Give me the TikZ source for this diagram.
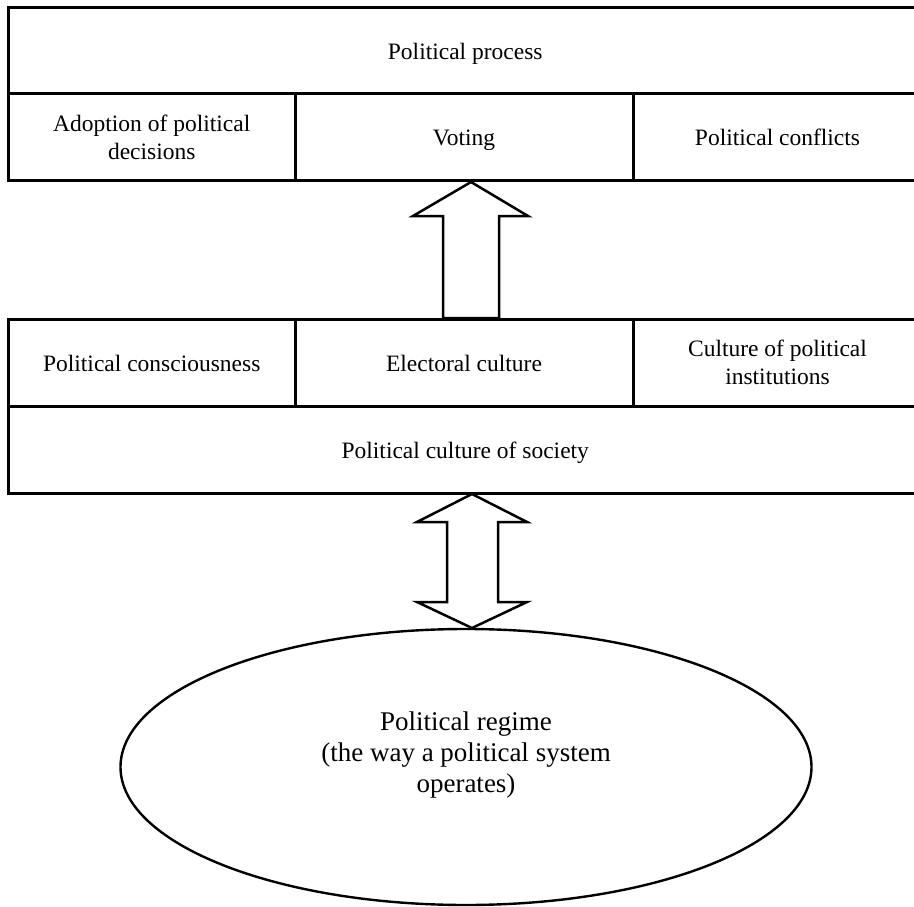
\documentclass[tikz,border=0pt]{standalone}
\usepackage{fontspec}
\setmainfont{Liberation Serif}
\usetikzlibrary{shapes.geometric}
\begin{document}
\begin{tikzpicture}[x=1pt,y=-1pt,
  cell/.style={draw, line width=3pt, rectangle, inner sep=0pt, outer sep=0pt, align=center,
    font=\fontsize{23.5}{28}\selectfont},
  oneline/.style={cell, text height=17.5pt, text depth=0pt},
  blockarrow/.style={draw, line width=2.5pt, fill=white, line join=miter},
  regimestyle/.style={draw, ellipse, line width=2.4pt, inner sep=0pt, outer sep=0pt}]
\clip (0,0) rectangle (914,907);
% top block
\node[oneline, minimum width=913.5pt, minimum height=86pt] (pp) at (465.25,51) {Political process};
\node[cell, minimum width=286.5pt, minimum height=86pt] (adopt) at (151.75,137) {Adoption of political\\decisions};
\node[oneline, minimum width=338pt, minimum height=86pt] (voting) at (464,137) {Voting};
\node[oneline, minimum width=289pt, minimum height=86pt] (conf) at (777.5,137) {Political conflicts};
% middle block
\node[oneline, minimum width=286.5pt, minimum height=87pt] (consc) at (151.75,362.5) {Political consciousness};
\node[oneline, minimum width=338pt, minimum height=87pt] (elect) at (464,362.5) {Electoral culture};
\node[cell, minimum width=289pt, minimum height=87pt] (cinst) at (777.5,362.5) {Culture of political\\institutions};
\node[oneline, minimum width=913.5pt, minimum height=87pt] (society) at (465.25,449.5) {Political culture of society};
% ellipse
\node[regimestyle, minimum width=691pt, minimum height=276pt] (regime) at (466,767) {};
\node[align=center, font=\fontsize{27}{31}\selectfont] (regimetext) at (466,755)
  {Political regime\\(the way a political system\\operates)};
% up arrow from middle block to top block
\coordinate (uptip) at (471,182);
\coordinate (upbase) at (471,318);
\draw[blockarrow] (uptip) -- ++(57,34) -- ++(-29,0) |- ([xshift=-28pt]upbase) -- ++(0,-102) -- ++(-30,0) -- cycle;
% double arrow between society and regime
\coordinate (dtop) at (472,494);
\coordinate (dbot) at (472,628);
\draw[blockarrow] (dtop) -- ++(55,28) -- ++(-29,0) -- ++(0,80) -- ++(29,0) -- (dbot)
  -- ++(-55,-26) -- ++(30,0) -- ++(0,-80) -- ++(-30,0) -- cycle;
\end{tikzpicture}
\end{document}
